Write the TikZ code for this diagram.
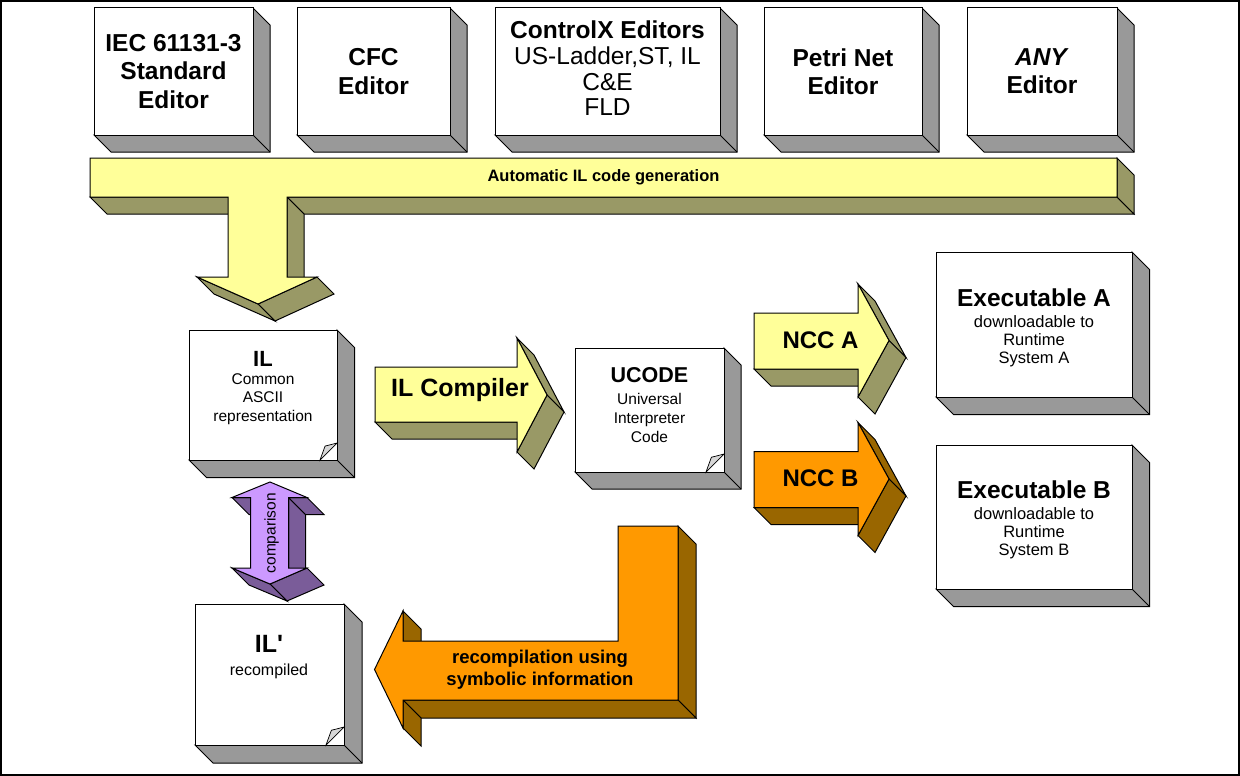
\documentclass[tikz,border=0pt]{standalone}
\usepackage{fontspec}
\setmainfont{Liberation Sans}[Ligatures=TeXOff]

\definecolor{sidegray}{RGB}{153,153,153}
\definecolor{lemon}{RGB}{255,255,153}
\definecolor{olivedark}{RGB}{153,153,102}
\definecolor{amber}{RGB}{255,153,0}
\definecolor{umber}{RGB}{153,102,0}
\definecolor{lilac}{RGB}{204,153,255}
\definecolor{plumdark}{RGB}{122,92,153}
\definecolor{foldgray}{RGB}{215,215,215}

% white block with grey right and bottom faces: x1 y1 x2 y2 depth
\newcommand{\solidbox}[5]{%
  \draw[facet=sidegray] (#3,#2) -- (#3+#5,#2+#5) -- (#3+#5,#4+#5) -- (#1+#5,#4+#5) -- (#1,#4) -- (#3,#4) -- cycle;
  \draw[edge] (#3,#4) -- (#3+#5,#4+#5);
  \draw[facet=white] (#1,#2) rectangle (#3,#4);
}
% folded page corner at the lower right corner (x, y) of a document block
\newcommand{\pagecurl}[3]{%
  \draw[edge,line width=0.7pt,fill=foldgray] (#1-#3,#2)
    .. controls (#1-0.85*#3,#2-0.4*#3) .. (#1-0.7*#3,#2-0.82*#3)
    .. controls (#1-0.45*#3,#2-0.88*#3) .. (#1,#2-#3) -- cycle;
}

\begin{document}
\begin{tikzpicture}[x=1pt,y=-1pt,
  edge/.style={draw=black,line width=1pt,line join=miter},
  facet/.style={edge,fill=#1},
  toptext/.style={font=\fontsize{24.5}{28.3}\selectfont\bfseries,align=center,inner sep=0pt},
  title/.style={font=\fontsize{#1}{#1}\selectfont\bfseries,inner sep=0pt,anchor=north},
  body/.style={font=\fontsize{15.5}{18.5}\selectfont,align=center,inner sep=0pt,anchor=north},
  arrowtext/.style={font=\fontsize{#1}{#1}\selectfont\bfseries,inner sep=0pt,anchor=base}]

\useasboundingbox (0,0) rectangle (1240,776);
\draw[line width=2.2pt] (1.1,1.1) rectangle (1238.9,774.9);

% ---- editors ----
\solidbox{94}{8}{253}{135}{17}
\node[toptext] (iec) at (173.5,71.5) {IEC 61131-3\\Standard\\Editor};
\solidbox{297}{8}{450}{135}{17}
\node[toptext] (cfc) at (373.5,71.5) {CFC\\Editor};
\solidbox{495}{8}{720}{135}{17}
\node[toptext,font=\fontsize{24.5}{25.7}\selectfont] (ctrlx) at (607.5,68.5)
  {\textbf{ControlX Editors}\\US-Ladder,ST, IL\\C\&E\\FLD};
\solidbox{764}{8}{922}{135}{17}
\node[toptext] (petri) at (843,71.5) {Petri Net\\Editor};
\solidbox{967}{8}{1117}{135}{17}
\node[toptext] (any) at (1042,71.5) {\textit{ANY}\\Editor};

% ---- code generation bar with its downward arrow ----
\draw[facet=olivedark] (90,197) -- (228,197) -- (245,214) -- (107,214) -- cycle;
\draw[facet=olivedark] (287,197) -- (1117,197) -- (1134,214) -- (304,214) -- cycle;
\draw[facet=olivedark] (1117,158) -- (1134,175) -- (1134,214) -- (1117,197) -- cycle;
\draw[facet=olivedark] (287,197) -- (304,214) -- (304,294) -- (287,277) -- cycle;
\draw[facet=olivedark] (317,277) -- (334,294) -- (275,321) -- (258,304) -- cycle;
\draw[facet=olivedark] (258,304) -- (275,321) -- (214,294) -- (197,277) -- cycle;
\draw[facet=lemon] (90,158) -- (1117,158) -- (1117,197) -- (287,197) -- (287,277)
  -- (317,277) -- (258,304) -- (197,277) -- (228,277) -- (228,197) -- (90,197) -- cycle;
\node[font=\fontsize{16.5}{16.5}\selectfont\bfseries,inner sep=0pt] (autogen) at (603.5,177.5)
  {Automatic IL code generation};

% ---- IL document ----
\solidbox{189}{330}{337}{460}{17.5}
\pagecurl{337}{460}{17}
\node[title=22] (il) at (263,351) {IL};
\node[body] (ilbody) at (263,373) {Common\\ASCII\\representation};

% ---- IL compiler arrow ----
\draw[facet=olivedark] (375,422) -- (517,422) -- (534,439) -- (392,439) -- cycle;
\draw[facet=olivedark] (517,338) -- (534,355) -- (564,412) -- (547,395) -- cycle;
\draw[facet=olivedark] (547,395) -- (564,412) -- (534,469) -- (517,452) -- cycle;
\draw[facet=lemon] (375,367) -- (517,367) -- (517,338) -- (547,395) -- (517,452)
  -- (517,422) -- (375,422) -- cycle;
\node[arrowtext=25] (ilc) at (460,396.7) {IL Compiler};

% ---- UCODE document ----
\solidbox{575}{348}{724}{472}{17}
\pagecurl{724}{472}{18}
\node[title=21.5] (ucode) at (649.5,367.7) {UCODE};
\node[body,font=\fontsize{15.5}{18.7}\selectfont] (ucodebody) at (649.5,393.5)
  {Universal\\Interpreter\\Code};

% ---- NCC A ----
\draw[facet=olivedark] (754,369) -- (858,369) -- (875,386) -- (771,386) -- cycle;
\draw[facet=olivedark] (858,284) -- (875,301) -- (906,357.5) -- (889,340.5) -- cycle;
\draw[facet=olivedark] (889,340.5) -- (906,357.5) -- (875,414) -- (858,397) -- cycle;
\draw[facet=lemon] (754,313) -- (858,313) -- (858,284) -- (889,340.5) -- (858,397)
  -- (858,369) -- (754,369) -- cycle;
\node[arrowtext=24] (ncca) at (820.5,348.3) {NCC A};

% ---- NCC B ----
\draw[facet=umber] (754,507.5) -- (858,507.5) -- (875,524.5) -- (771,524.5) -- cycle;
\draw[facet=umber] (858,422.5) -- (875,439.5) -- (906,496) -- (889,479) -- cycle;
\draw[facet=umber] (889,479) -- (906,496) -- (875,552.5) -- (858,535.5) -- cycle;
\draw[facet=amber] (754,451.5) -- (858,451.5) -- (858,422.5) -- (889,479) -- (858,535.5)
  -- (858,507.5) -- (754,507.5) -- cycle;
\node[arrowtext=24] (nccb) at (820.5,486.8) {NCC B};

% ---- executables ----
\solidbox{936}{252}{1132}{397}{17.5}
\node[title=24.5] (exa) at (1034,289) {Executable A};
\node[body,font=\fontsize{16.5}{17.8}\selectfont] (exabody) at (1034,315.5)
  {downloadable to\\Runtime\\System A};
\solidbox{936}{445}{1132}{589}{17.5}
\node[title=24.5] (exb) at (1034,481) {Executable B};
\node[body,font=\fontsize{16.5}{17.8}\selectfont] (exbbody) at (1034,507.5)
  {downloadable to\\Runtime\\System B};

% ---- comparison double arrow ----
\draw[facet=plumdark] (288.5,497.5) -- (305.5,514.5) -- (305.5,585) -- (288.5,568) -- cycle;
\draw[facet=plumdark] (288.5,497.5) -- (307,497.5) -- (324,514.5) -- (305.5,514.5) -- cycle;
\draw[facet=plumdark] (232,497.5) -- (250.5,497.5) -- (267.5,514.5) -- (249,514.5) -- cycle;
\draw[facet=plumdark] (307,568) -- (324,585) -- (287,601) -- (270,584) -- cycle;
\draw[facet=plumdark] (270,584) -- (287,601) -- (249,585) -- (232,568) -- cycle;
\draw[facet=lilac] (270,482) -- (307,497.5) -- (288.5,497.5) -- (288.5,568) -- (307,568)
  -- (270,584) -- (232,568) -- (250.5,568) -- (250.5,497.5) -- (232,497.5) -- cycle;
\node[font=\fontsize{15.5}{15.5}\selectfont,inner sep=0pt,rotate=90] (cmp) at (271.5,533.3) {comparison};

% ---- recompiled IL document ----
\solidbox{195}{604}{344}{745}{18}
\pagecurl{344}{745}{18}
\node[title=25] (ilp) at (269,635) {IL'};
\node[body,font=\fontsize{16}{18}\selectfont] (ilpbody) at (269,664) {recompiled};

% ---- recompilation arrow ----
\draw[facet=umber] (678,526) -- (696,544) -- (696,718) -- (678,700) -- cycle;
\draw[facet=umber] (403,700) -- (678,700) -- (696,718) -- (421,718) -- cycle;
\draw[facet=umber] (403,700) -- (421,718) -- (421,746) -- (403,728) -- cycle;
\draw[facet=umber] (403,611) -- (421,629) -- (421,659) -- (403,641) -- cycle;
\draw[facet=amber] (618,526) -- (678,526) -- (678,700) -- (403,700) -- (403,728)
  -- (374.5,669.5) -- (403,611) -- (403,641) -- (618,641) -- cycle;
\node[font=\fontsize{18.5}{21.4}\selectfont\bfseries,align=center,inner sep=0pt,anchor=north]
  (recomp) at (540,650) {recompilation using\\symbolic information};

\end{tikzpicture}
\end{document}
